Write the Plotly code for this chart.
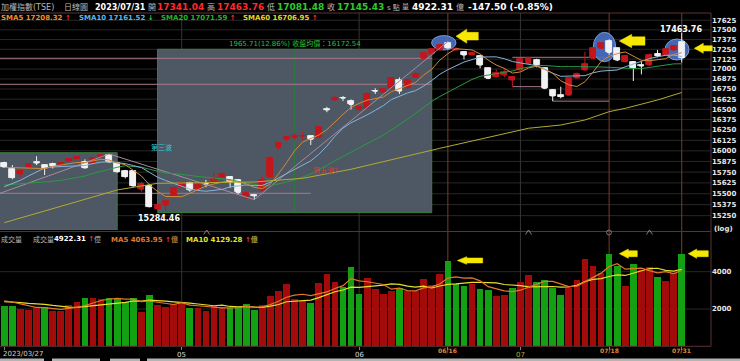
import math
import pandas as pd
import plotly.graph_objects as go

W, H = 740, 361

# ---------------- data ----------------
trading_days = {
    (2023, 3): [27, 28, 29, 30, 31],
    (2023, 4): [6, 7, 10, 11, 12, 13, 14, 17, 18, 19, 20, 21, 24, 25, 26, 27, 28],
    (2023, 5): [2, 3, 4, 5, 8, 9, 10, 11, 12, 15, 16, 17, 18, 19, 22, 23, 24, 25, 26, 29, 30, 31],
    (2023, 6): [1, 2, 5, 6, 7, 8, 9, 12, 13, 14, 15, 16, 19, 20, 21, 26, 27, 28, 29, 30],
    (2023, 7): [3, 4, 5, 6, 7, 10, 11, 12, 13, 14, 17, 18, 19, 20, 21, 24, 25, 26, 27, 28, 31],
}
dates = [f"{y}-{m:02d}-{d:02d}" for (y, m), ds in trading_days.items() for d in ds]

opens = [15860, 15781, 15728, 15811, 15865, 15832, 15848, 15836, 15881, 15908,
         15874, 15861, 15924, 15948, 15853, 15763, 15767, 15551, 15594, 15330,
         15372, 15470, 15582, 15621, 15551, 15614, 15638, 15697, 15697, 15659,
         15470, 15482, 15543, 15697, 16040, 16136, 16161, 16177, 16177, 16161,
         16500, 16614, 16644, 16601, 16498, 16519, 16729, 16713, 16763, 16859,
         16768, 16897, 17134, 17190, 17244, 17329, 17241, 17220, 17181, 17164,
         17008, 16902, 16924, 16861, 16987, 17071, 17113, 17008, 16738, 16670,
         16674, 16887, 16987, 17134, 17263, 17357, 17263, 17092, 17092, 17050,
         17050, 17194, 17177, 17241, 17341.04]
highs = [15872, 15833, 15772, 15849, 15936, 15836, 15860, 15862, 15914, 15938,
         15900, 15918, 15955, 15963, 15869, 15775, 15775, 15638, 15614, 15385,
         15432, 15577, 15638, 15638, 15621, 15659, 15744, 15744, 15704, 15662,
         15523, 15497, 15697, 15934, 16108, 16177, 16210, 16230, 16182, 16302,
         16530, 16663, 16663, 16621, 16534, 16710, 16759, 16753, 16897, 16894,
         16873, 16956, 17204, 17262, 17314, 17349, 17279, 17224, 17220, 17169,
         17021, 16996, 17008, 16907, 17129, 17144, 17129, 17016, 16748, 16779,
         16887, 16956, 17220, 17279, 17339, 17379, 17269, 17164, 17099, 17092,
         17194, 17241, 17255, 17300, 17463.76]
lows = [15798, 15666, 15697, 15805, 15832, 15716, 15792, 15832, 15877, 15905,
        15789, 15854, 15918, 15861, 15744, 15677, 15582, 15523, 15345, 15284.46,
        15305, 15459, 15551, 15523, 15523, 15574, 15627, 15677, 15568, 15491,
        15440, 15432, 15523, 15697, 16009, 16120, 16127, 16127, 16070, 16148,
        16465, 16611, 16601, 16498, 16486, 16505, 16688, 16709, 16753, 16688,
        16748, 16892, 17129, 17180, 17234, 17259, 17234, 17122, 17169, 17008,
        16873, 16894, 16894, 16779, 16981, 17065, 17021, 16748, 16600, 16635,
        16670, 16882, 16981, 17129, 17259, 17179, 17099, 17084, 16850, 16933,
        17040, 17149, 17169, 17234, 17081.48]
closes = [15810, 15687, 15767, 15840, 15858, 15801, 15819, 15856, 15908, 15932,
          15801, 15912, 15948, 15868, 15755, 15698, 15590, 15614, 15352, 15375,
          15412, 15568, 15621, 15543, 15602, 15610, 15687, 15724, 15638, 15515,
          15505, 15478, 15659, 15913, 16090, 16168, 16172, 16182, 16136, 16282,
          16495, 16642, 16639, 16559, 16531, 16690, 16724, 16746, 16892, 16724,
          16862, 16936, 17204, 17250.17, 17309, 17267, 17257, 17177, 17198, 17050,
          16882, 16944, 16966, 16902, 17122, 17134, 17050, 16759, 16664, 16656,
          16882, 16941, 17058, 17263, 17327, 17210, 17113, 17170, 17016, 17040,
          17180, 17165, 17250, 17292.93, 17145.43]
volumes = [2177, 2177, 2017, 1946, 2089, 2124, 1874, 1874, 2213, 2356,
           2606, 2588, 2517, 2570, 2570, 2392, 2588, 1839, 2749, 2231,
           2124, 2267, 2338, 2071, 2071, 1892, 2160, 2124, 2071, 2089,
           2267, 1963, 2196, 2696, 2964, 3339, 2535, 2410, 2338, 3410,
           3875, 3464, 3160, 4232, 2803, 3650, 3071, 2803, 2982, 3107,
           2982, 2982, 3589, 3286, 3857, 4571, 3321, 3250, 3321, 3071,
           3017, 2678, 2749, 3142, 3446, 3821, 3428, 3553, 3142, 2749,
           3142, 3553, 4697, 4304, 3911, 4929, 4304, 3232, 4411, 4089,
           4250, 3714, 3520, 3911, 4922.31]

# closes / volumes before the window, only used to warm up the moving averages
prior_closes = [15560, 15620, 15650, 15700, 15660, 15720, 15630, 15600, 15500, 15550,
                15300, 15420, 15330, 15380, 15350, 15700, 15820, 15850, 15850]
prior_volumes = [2300, 2400, 2350, 2300, 2400, 2450, 2520, 2500, 2503]

# SMA60
sma60_dates = ["2023-03-27", "2023-04-19", "2023-04-26", "2023-05-15", "2023-05-23",
               "2023-05-31", "2023-06-15", "2023-07-04", "2023-07-10", "2023-07-13",
               "2023-07-18", "2023-07-20", "2023-07-26", "2023-07-31"]
sma60_values = [15171, 15543, 15620, 15635, 15678, 15783, 16030, 16270, 16309, 16370,
                16471, 16512, 16614, 16706.95]

# wave line (pivot dates / prices)
wave_dates = ["2023-03-24", "2023-04-18", "2023-05-15", "2023-06-16"]
wave_prices = [15489, 15963, 15432, 17349]

price_ticks = list(range(15250, 17626, 125))
volume_ticks = [2000, 4000]

month_dates = ["2023-05-02", "2023-06-01", "2023-07-03"]
month_labels = ["05", "06", "07"]
event_dates = ["2023-06-16", "2023-07-18", "2023-07-31"]
event_labels = ["06/16", "07/18", "07/31"]

box_low_date, box_high_date = "2023-04-26", "2023-06-14"
box_low, box_high = 15284.46, 17250.17
box1_end_date, box1_top = "2023-04-19", 15978

# ---------------- geometry helpers ----------------
X0, X1 = -0.533, 87.63
PLOT_R = 711
P_TOP, P_BOT = 13, 230
V_TOP, V_BOT = 233, 346.3
P_MAX, P_MIN = 17720.1, 15088.9
LOG_TOP, LOG_BOT = math.log10(P_MAX), math.log10(P_MIN)
V_MAX = 6073


def di(d):
    return dates.index(d) if d in dates else -3


def xi(px):
    return X0 + px / PLOT_R * (X1 - X0)


def yv(py):
    return 10 ** (LOG_TOP - (py - P_TOP) / (P_BOT - P_TOP) * (LOG_TOP - LOG_BOT))


def xp(px):
    return px / W


def yp(py):
    return 1 - py / H


idx = list(range(len(dates)))

all_close = pd.Series(prior_closes + closes, dtype=float)
n0 = len(prior_closes)
sma5 = all_close.rolling(5).mean().iloc[n0:].tolist()
sma10 = all_close.rolling(10).mean().iloc[n0:].tolist()
sma20 = all_close.rolling(20).mean().iloc[n0:].tolist()

all_vol = pd.Series(prior_volumes + volumes, dtype=float)
m0 = len(prior_volumes)
vma5 = all_vol.rolling(5).mean().iloc[m0:].tolist()
vma10 = all_vol.rolling(10).mean().iloc[m0:].tolist()

prev_close = [prior_closes[-1]] + closes[:-1]
RED_V, GREEN_V = "#a30b0b", "#13a013"
vol_colors = [RED_V if c >= p else GREEN_V for c, p in zip(closes, prev_close)]

CANDLE_RED = "#c4161c"
CANDLE_WHITE = "#f2f2f2"
body_base = [min(o, c) for o, c in zip(opens, closes)]
body_len = [abs(c - o) for o, c in zip(opens, closes)]
body_col = [CANDLE_RED if c > o else CANDLE_WHITE for o, c in zip(opens, closes)]

fig = go.Figure()

# wave line
wx = [di(d) if d in dates else -1 for d in wave_dates]
fig.add_trace(go.Scatter(x=wx, y=wave_prices, mode="lines",
                         line=dict(color="#a9889f", width=1), hoverinfo="skip",
                         xaxis="x", yaxis="y"))
# moving averages
for series, col in [(sma20, "#2a9a44"), (sma10, "#86b4dc"), (sma5, "#d08a3a")]:
    fig.add_trace(go.Scatter(x=idx, y=series, mode="lines", line=dict(color=col, width=1),
                             hoverinfo="skip", xaxis="x", yaxis="y"))
fig.add_trace(go.Scatter(x=[di(d) for d in sma60_dates], y=sma60_values, mode="lines",
                         line=dict(color="#b3aa30", width=1), hoverinfo="skip",
                         xaxis="x", yaxis="y"))
# candle bodies (wider) + candlestick for wicks
fig.add_trace(go.Bar(x=idx, y=body_len, base=body_base, width=0.74,
                     marker=dict(color=body_col, line=dict(color=body_col, width=0.8)),
                     hoverinfo="skip", xaxis="x", yaxis="y"))
fig.add_trace(go.Candlestick(
    x=idx, open=opens, high=highs, low=lows, close=closes,
    increasing=dict(fillcolor=CANDLE_RED, line=dict(color=CANDLE_RED, width=1)),
    decreasing=dict(fillcolor=CANDLE_WHITE, line=dict(color=CANDLE_WHITE, width=1)),
    whiskerwidth=0, hoverinfo="skip", xaxis="x", yaxis="y"))
# volume
fig.add_trace(go.Bar(x=idx, y=volumes, marker=dict(color=vol_colors, line=dict(width=0)),
                     width=0.83, hoverinfo="skip", xaxis="x2", yaxis="y2"))
fig.add_trace(go.Scatter(x=idx, y=vma10, mode="lines", line=dict(color="#e6e02a", width=1.2),
                         hoverinfo="skip", xaxis="x2", yaxis="y2"))
fig.add_trace(go.Scatter(x=idx, y=vma5, mode="lines", line=dict(color="#e2782a", width=1.2),
                         hoverinfo="skip", xaxis="x2", yaxis="y2"))

shapes = []
GRID = "#282828"
for t in price_ticks:
    shapes.append(dict(type="line", xref="paper", yref="y", x0=0, x1=xp(PLOT_R), y0=t, y1=t,
                       line=dict(color=GRID, width=1), layer="below"))
for t in volume_ticks:
    shapes.append(dict(type="line", xref="paper", yref="y2", x0=0, x1=xp(PLOT_R), y0=t, y1=t,
                       line=dict(color=GRID, width=1), layer="below"))
for d in month_dates:
    shapes.append(dict(type="line", xref="x", yref="paper", x0=di(d), x1=di(d),
                       y0=yp(V_BOT), y1=yp(P_TOP), line=dict(color="#353535", width=1), layer="below"))
for d in event_dates:
    shapes.append(dict(type="line", xref="x", yref="paper", x0=di(d), x1=di(d),
                       y0=yp(V_BOT), y1=yp(P_TOP), line=dict(color="#7a3c2a", width=1), layer="below"))

# gray boxes
BOX_FILL = "#4e5864"
BOX_LINE = "#3b7f3b"
shapes.append(dict(type="rect", xref="x", yref="y", x0=-3, x1=di(box1_end_date),
                   y0=P_MIN, y1=box1_top, fillcolor=BOX_FILL,
                   line=dict(color=BOX_LINE, width=1), layer="below"))
shapes.append(dict(type="rect", xref="x", yref="y", x0=di(box_low_date), x1=di(box_high_date),
                   y0=box_low, y1=box_high, fillcolor=BOX_FILL,
                   line=dict(color=BOX_LINE, width=1), layer="below"))
mid = (di(box_low_date) + di(box_high_date)) / 2
shapes.append(dict(type="line", xref="x", yref="y", x0=mid, x1=mid, y0=box_low, y1=box_high,
                   line=dict(color="#2f7a44", width=1), layer="below"))

# horizontal reference lines
PINK = "#a9788c"
hlines = [
    (17135.5, "2023-03-24", box_high_date),
    (16808.6, "2023-03-24", box_high_date),
    (15504.7, "2023-03-24", "2023-05-24"),
    (17148, "2023-06-30", "2023-07-18"),
    (16779, "2023-06-30", "2023-07-06"),
    (16600, "2023-07-07", "2023-07-18"),
]
for lvl, d0, d1 in hlines:
    shapes.append(dict(type="line", xref="x", yref="y", x0=di(d0), x1=di(d1), y0=lvl, y1=lvl,
                       line=dict(color=PINK, width=1), layer="below"))

# blue ellipses (pixel extents)
for (l, r, t, b) in [(431.6, 456.0, 35.6, 50.0), (593.3, 615.7, 32.3, 61.7), (665.0, 689.0, 39.0, 60.0)]:
    shapes.append(dict(type="circle", xref="x", yref="y", x0=xi(l), x1=xi(r), y0=yv(b), y1=yv(t),
                       fillcolor="#4a70c4", opacity=0.92, line=dict(color="#86a6e4", width=1),
                       layer="below"))

# frame
FRAME = "#5a3232"
shapes += [
    dict(type="line", xref="paper", yref="paper", x0=0, x1=xp(PLOT_R), y0=yp(P_TOP), y1=yp(P_TOP),
         line=dict(color=FRAME, width=1)),
    dict(type="line", xref="paper", yref="paper", x0=xp(PLOT_R), x1=xp(PLOT_R), y0=yp(V_BOT), y1=yp(P_TOP),
         line=dict(color=FRAME, width=1)),
    dict(type="line", xref="paper", yref="paper", x0=0, x1=xp(PLOT_R), y0=yp(V_BOT), y1=yp(V_BOT),
         line=dict(color=FRAME, width=1)),
    dict(type="line", xref="paper", yref="paper", x0=0, x1=xp(PLOT_R), y0=yp(231.5), y1=yp(231.5),
         line=dict(color=FRAME, width=1)),
]

# bottom status strip
for (a, b) in [(0, 44), (52, 100), (110, 140), (147, 740)]:
    shapes.append(dict(type="rect", xref="paper", yref="paper", x0=xp(a), x1=xp(b), y0=0, y1=yp(358.6),
                       fillcolor="#b4b4b4", line=dict(width=0)))


def left_arrow(tip, tail, cy, head_h, tail_h, head_len):
    pts = [(tip, cy), (tip + head_len, cy - head_h / 2), (tip + head_len, cy - tail_h / 2),
           (tail, cy - tail_h / 2), (tail, cy + tail_h / 2), (tip + head_len, cy + tail_h / 2),
           (tip + head_len, cy + head_h / 2)]
    path = "M " + " L ".join(f"{xp(a):.5f},{yp(b):.5f}" for a, b in pts) + " Z"
    return dict(type="path", xref="paper", yref="paper", path=path, fillcolor="#f6e800",
                line=dict(color="#f6e800", width=0.5), layer="above")


for a in [(456, 478.3, 36.2, 14, 7.7, 10.7), (619.3, 645, 41, 13.4, 8.3, 12.4),
          (694.3, 712.3, 48.3, 10, 5.3, 9), (457.3, 482.7, 260.5, 7.7, 5, 9.4),
          (619.3, 637.3, 253.7, 9.3, 6, 9), (688.3, 708.3, 253.7, 9.3, 6, 8.4)]:
    shapes.append(left_arrow(*a))

for cx in [206.7, 528.5, 649.5]:
    path = f"M {xp(cx-3):.5f},{yp(234.5):.5f} L {xp(cx):.5f},{yp(230):.5f} L {xp(cx+3):.5f},{yp(234.5):.5f}"
    shapes.append(dict(type="path", xref="paper", yref="paper", path=path,
                       line=dict(color="#8a8080", width=1)))
shapes.append(dict(type="circle", xref="paper", yref="paper", x0=xp(606.5), x1=xp(611.5),
                   y0=yp(235), y1=yp(230), line=dict(color="#8a7070", width=1)))

# ---------------- text ----------------
FONT = "DejaVu Sans, Noto Sans CJK TC, sans-serif"
ann = []


def txt(x, y, s, color, size=8, bold=False, anchor="left", xref="paper"):
    ann.append(dict(x=xp(x) if xref == "paper" else x, y=yp(y), xref=xref, yref="paper", text=s,
                    showarrow=False, xanchor=anchor, yanchor="middle", borderpad=0,
                    font=dict(family=FONT, size=size, color=color, weight="bold" if bold else "normal")))


GRAY = "#b8b8b8"
REDT, GREENT = "#ff2a2a", "#2ccc2c"
chg = closes[-1] - closes[-2]
pct = chg / closes[-2] * 100

txt(0, 7, "加權指數(TSE)", GRAY, 8)
txt(63, 7, "日線圖", GRAY, 8)
txt(94, 7, "2023/07/31", "#ffffff", 8, True)
txt(147, 7, "開", GRAY, 8)
txt(156, 7, f"{opens[-1]:.2f}", REDT, 9, True)
txt(206, 7, "高", GRAY, 8)
txt(216, 7, f"{highs[-1]:.2f}", REDT, 9, True)
txt(266, 7, "低", GRAY, 8)
txt(276, 7, f"{lows[-1]:.2f}", GREENT, 9, True)
txt(326, 7, "收", GRAY, 8)
txt(336, 7, f"{closes[-1]:.2f}", GREENT, 9, True)
txt(386, 7, "s 點", GRAY, 7)
txt(401, 7, "量", GRAY, 7)
txt(411, 7, f"{volumes[-1]:.2f}", "#ffffff", 9, True)
txt(455, 7, "億", GRAY, 8)
txt(467, 7, f"{chg:.2f} ({pct:.2f}%)", "#ffffff", 9, True)

UP = "<span style='color:#ff2a2a'>↑</span>"
DN = "<span style='color:#2ccc2c'>↓</span>"
txt(0, 18, "SMA5 17208.32 " + UP, "#f08c28", 7, True)
txt(78, 18, "SMA10 17161.52 " + DN, "#5ab6ea", 7, True)
txt(160, 18, "SMA20 17071.59 " + UP, "#22b422", 7, True)
txt(242, 18, "SMA60 16706.95 " + UP, "#e6d424", 7, True)

txt(0, 239, "成交量", GRAY, 7)
txt(32, 239, "成交量", GRAY, 7)
txt(53, 239, f"{volumes[-1]:.2f} " + UP, "#ffffff", 7, True)
txt(93, 239, "億", GRAY, 7)
txt(110, 239, "MA5 4063.95 " + UP + "<span style='color:#b0803a'>億</span>", "#e8782c", 7, True)
txt(185, 239, "MA10 4129.28 " + UP + "<span style='color:#b0a83a'>億</span>", "#e6e02a", 7, True)

txt(159, 218, f"{box_low:.2f}", "#ffffff", 8, True, "center")
txt(681, 30, f"{highs[-1]:.2f}", "#ffffff", 8, True, "center")
txt(713, 229, "(log)", "#e8e8e8", 7, True)
txt(295, 44, f"{box_high - box_low:.2f}({(box_high - box_low) / box_low * 100:.2f}%) 收盤均價：16172.54",
    "#2fbf3a", 7, False, "center")
txt(161, 147.5, "第三波", "#38c8d8", 7, False, "center")
txt(325, 171, "第五波?", "#e03434", 7, False, "center")

txt(2, 354, "2023/03/27", "#cfcfcf", 7, False)
for d, lab in zip(month_dates, month_labels):
    txt(di(d), 354.5, lab, "#b8b030" if lab == "07" else "#dcdcdc", 7, False, "center", xref="x")
for d, lab in zip(event_dates, event_labels):
    txt(di(d), 350, lab, "#e08a34", 6, True, "center", xref="x")

tick_idx = [0] + [di(d) for d in month_dates] + [di(d) for d in event_dates]

fig.update_layout(
    width=W, height=H, margin=dict(l=0, r=0, t=0, b=0),
    paper_bgcolor="#000000", plot_bgcolor="rgba(0,0,0,0)", showlegend=False,
    xaxis=dict(domain=[0, PLOT_R / W], range=[X0, X1], showgrid=False, showticklabels=False,
               zeroline=False, showline=False, ticks="", rangeslider=dict(visible=False), anchor="y"),
    yaxis=dict(domain=[yp(P_BOT), yp(P_TOP)], type="log", range=[LOG_BOT, LOG_TOP], side="right",
               tickvals=price_ticks, ticktext=[str(t) for t in price_ticks],
               tickfont=dict(family="DejaVu Sans", size=7, color="#e6e6e6", weight="bold"),
               showgrid=False, zeroline=False, showline=False, ticks="", anchor="x"),
    xaxis2=dict(domain=[0, PLOT_R / W], range=[X0, X1], matches="x", anchor="y2",
                tickvals=tick_idx, ticks="outside", ticklen=3, tickcolor="#808080",
                showticklabels=False, showgrid=False, zeroline=False, showline=False),
    yaxis2=dict(domain=[yp(V_BOT), yp(V_TOP)], range=[0, V_MAX], side="right", tickvals=volume_ticks,
                tickfont=dict(family="DejaVu Sans", size=7, color="#e6e6e6", weight="bold"),
                showgrid=False, zeroline=False, showline=False, ticks="", anchor="x2"),
    shapes=shapes, annotations=ann, bargap=0,
)

fig.write_html("out.html", config={"displayModeBar": False},
               post_script="document.body.style.margin='0px';document.body.style.background='#000';")
